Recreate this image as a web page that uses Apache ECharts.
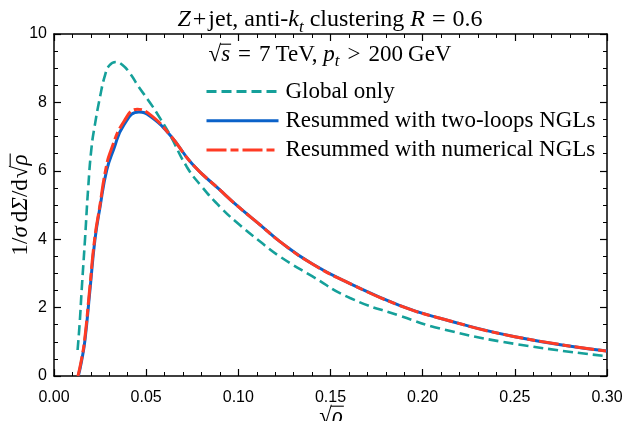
<!DOCTYPE html>
<html>
<head>
<meta charset="utf-8">
<script src="https://cdn.jsdelivr.net/npm/echarts@6/dist/echarts.min.js"></script>
<style>
html,body{margin:0;padding:0;background:#fff;}
#c{width:637px;height:421px;}
</style>
</head>
<body>
<div id="c"></div>
<script>
// x values (sqrt(rho)) and curve values
var globalX = [0.0128,0.0140,0.0150,0.0168,0.0186,0.0204,0.0222,0.0250,0.0277,0.0300,0.0335,0.0370,0.0412,0.0460,0.0520,0.0575,0.0629,0.0720,0.0800,0.0900,0.1000,0.1118,0.1226,0.1400,0.1606,0.1877,0.2094,0.2500,0.3000];
var globalY = [0.76,1.60,2.50,3.98,5.54,6.70,7.35,8.17,8.80,9.08,9.18,9.10,8.85,8.45,8.00,7.54,7.05,6.12,5.55,4.95,4.45,3.93,3.49,2.92,2.28,1.76,1.39,0.94,0.58];

var twoLoopX = [0.0132,0.0150,0.0168,0.0195,0.0222,0.0250,0.0286,0.0322,0.0380,0.0461,0.0520,0.0629,0.0750,0.0900,0.1000,0.1118,0.1226,0.1400,0.1606,0.1877,0.2094,0.2500,0.3000];
var twoLoopY = [0.00,0.45,1.05,2.51,3.98,4.95,6.02,6.60,7.35,7.72,7.60,7.05,6.20,5.44,4.95,4.42,3.93,3.28,2.70,2.06,1.69,1.15,0.73];

var numericalX = [0.0130,0.0148,0.0166,0.0193,0.0220,0.0248,0.0280,0.0309,0.0380,0.0452,0.0520,0.0629,0.0750,0.0900,0.1000,0.1118,0.1226,0.1400,0.1606,0.1877,0.2094,0.2500,0.3000];
var numericalY = [0.00,0.45,1.05,2.51,3.98,4.95,6.02,6.60,7.45,7.80,7.65,7.05,6.20,5.44,4.95,4.42,3.93,3.28,2.70,2.06,1.69,1.15,0.73];

var seriesNames = ['Global only','Resummed with two-loops NGLs','Resummed with numerical NGLs'];
var xTicks = {min:0, max:0.30, interval:0.05};
var yTicks = {min:0, max:10, interval:2};

function zip(xs, ys){ return xs.map(function(x,i){ return [x, ys[i]]; }); }

var serif = "'Liberation Serif', 'DejaVu Serif', serif";
var sans = "'Liberation Sans', Arial, sans-serif";

// ---- math-like text layout helpers (text pieces measured with canvas) ----
var mctx = document.createElement('canvas').getContext('2d');
function fontStr(italic, fs){ return (italic ? 'italic ' : '') + fs + 'px ' + serif; }
function mathGroup(parts, fs, gx, gy, rot){
  var x = 0, items = [];
  parts.forEach(function(p){
    var size = p.sub ? Math.round(fs*0.72) : fs;
    x += (p.pre || 0);
    mctx.font = fontStr(p.it, size);
    var w = mctx.measureText(p.t).width;
    items.push({p:p, x:x, w:w, size:size});
    x += w + (p.post || 0);
  });
  var W = x, children = [];
  items.forEach(function(it){
    var x0 = it.x - W/2;
    children.push({type:'text', x:x0, y:(it.p.sub ? fs*0.30 : 0), style:{
      text:it.p.t, fontFamily:serif, fontSize:it.size, fontStyle:(it.p.it ? 'italic' : 'normal'),
      fill:'#000', align:'left', verticalAlign:'middle'}});
    if (it.p.bar){
      children.push({type:'line', shape:{x1:x0-1, y1:-fs*0.47, x2:x0+it.w+1, y2:-fs*0.47},
        style:{stroke:'#000', lineWidth:1.1}});
    }
  });
  return {type:'group', x:gx, y:gy, rotation:rot || 0, children:children};
}

var chart = echarts.init(document.getElementById('c'), null, {renderer:'canvas'});

function axisCommon(extra){
  var base = {
    type:'value',
    axisLine:{show:true, onZero:false, lineStyle:{color:'#000', width:1.5}},
    axisTick:{show:true, inside:true, length:7, lineStyle:{color:'#000', width:1.2}},
    minorTick:{show:true, length:4, lineStyle:{color:'#000', width:1}},
    splitLine:{show:false},
    axisLabel:{show:false}
  };
  for (var k in extra) base[k] = extra[k];
  return base;
}

var titleParts = [
  {t:'Z', it:true}, {t:'+', pre:2, post:2}, {t:'jet, anti-'}, {t:'k', it:true}, {t:'t', it:true, sub:true},
  {t:' clustering '}, {t:'R', it:true}, {t:'=', pre:7, post:7}, {t:'0.6'}
];
var subParts = [
  {t:'\u221A'}, {t:'s', it:true, bar:true}, {t:'=', pre:8, post:8}, {t:'7'}, {t:'TeV,', pre:5}, {t:' '}, {t:'p', it:true}, {t:'t', it:true, sub:true},
  {t:'>', pre:8, post:8}, {t:'200'}, {t:'GeV', pre:5}
];
var yNameParts = [
  {t:'1/'}, {t:'\u03C3', it:true}, {t:'d', pre:4}, {t:'\u03A3', it:true}, {t:'/d'}, {t:'\u221A', pre:1}, {t:'\u03C1', it:true, bar:true}
];
var xNameParts = [ {t:'\u221A'}, {t:'\u03C1', it:true, bar:true} ];

var option = {
  backgroundColor:'#fff',
  animation:false,
  grid:{left:54, right:30, top:34, bottom:45, containLabel:false, outerBoundsMode:'none'},
  xAxis:[
    axisCommon({position:'bottom', min:xTicks.min, max:xTicks.max, interval:xTicks.interval,
      minorTick:{show:true, splitNumber:5, length:4, lineStyle:{color:'#000', width:1}},
      axisLabel:{show:true, color:'#000', fontFamily:sans, fontSize:16, margin:14,
        formatter:function(v){ return v.toFixed(2); }}
    }),
    axisCommon({position:'top', min:xTicks.min, max:xTicks.max, interval:xTicks.interval,
      minorTick:{show:true, splitNumber:5, length:4, lineStyle:{color:'#000', width:1}}})
  ],
  yAxis:[
    axisCommon({position:'left', min:yTicks.min, max:yTicks.max, interval:yTicks.interval,
      minorTick:{show:true, splitNumber:4, length:4, lineStyle:{color:'#000', width:1}},
      axisLabel:{show:true, color:'#000', fontFamily:sans, fontSize:16, margin:7}
    }),
    axisCommon({position:'right', min:yTicks.min, max:yTicks.max, interval:yTicks.interval,
      minorTick:{show:true, splitNumber:4, length:4, lineStyle:{color:'#000', width:1}}})
  ],
  legend:{
    show:true, orient:'vertical', left:200, top:75,
    itemWidth:72, itemHeight:14, itemGap:6.3,
    itemStyle:{opacity:0},
    lineStyle:{width:3},
    textStyle:{fontFamily:serif, fontSize:23, color:'#000', lineHeight:23, padding:[0,0,0,2]},
    data:seriesNames
  },
  graphic:[
    mathGroup(titleParts, 24, 330, 20),
    mathGroup(subParts, 23, 330, 55),
    mathGroup(yNameParts, 23, 21, 205, Math.PI/2),
    mathGroup(xNameParts, 23, 331, 417)
  ],
  series:[
    {name:seriesNames[0], type:'line', xAxisIndex:0, yAxisIndex:0, data:zip(globalX, globalY),
      smooth:0.5, showSymbol:false, symbol:'none', z:3,
      lineStyle:{color:'#15a09a', width:2.6, type:[10,5]}, itemStyle:{color:'#15a09a'}},
    {name:seriesNames[1], type:'line', xAxisIndex:0, yAxisIndex:0, data:zip(twoLoopX, twoLoopY),
      smooth:0.5, showSymbol:false, symbol:'none', z:4,
      lineStyle:{color:'#0b62c9', width:3}, itemStyle:{color:'#0b62c9'}},
    {name:seriesNames[2], type:'line', xAxisIndex:0, yAxisIndex:0, data:zip(numericalX, numericalY),
      smooth:0.5, showSymbol:false, symbol:'none', z:5,
      lineStyle:{color:'#ff3b24', width:3, type:[20,4,8,4]}, itemStyle:{color:'#ff3b24'}}
  ]
};
chart.setOption(option);
</script>
</body>
</html>
